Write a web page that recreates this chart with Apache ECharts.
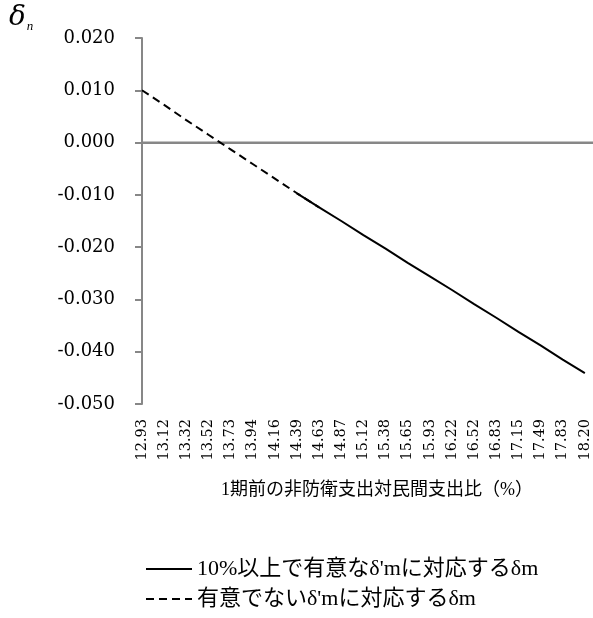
<!DOCTYPE html>
<html><head><meta charset="utf-8">
<script src="https://cdn.jsdelivr.net/npm/echarts@6/dist/echarts.min.js"></script>
<style>html,body{margin:0;padding:0;background:#fff}#c{width:593px;height:618px}</style>
</head><body><div id="c"></div>
<script>
const categories = ['12.93','13.12','13.32','13.52','13.73','13.94','14.16','14.39','14.63','14.87','15.12','15.38','15.65','15.93','16.22','16.52','16.83','17.15','17.49','17.83','18.20'];
const deltaValues = [0.0100,0.0072,0.0043,0.0015,-0.0013,-0.0041,-0.0069,-0.0097,-0.0124,-0.0150,-0.0177,-0.0203,-0.0230,-0.0256,-0.0282,-0.0309,-0.0335,-0.0362,-0.0388,-0.0415,-0.0441];
const dashedEnd = 8;    // last category index of non-significant part
const solidStart = 7;   // first category index of significant part
const seriesNames = ["10%以上で有意なδ'mに対応するδm", "有意でないδ'mに対応するδm"];
const yTicks = {min: -0.05, max: 0.02, interval: 0.01};
const zeroLevel = 0;
const xAxisTitle = '1期前の非防衛支出対民間支出比（%）';

const solidData = deltaValues.map((v, i) => i >= solidStart ? v : null);
const dashedData = deltaValues.map((v, i) => i <= dashedEnd ? v : null);
const serif = '"Liberation Serif","Noto Sans CJK JP",serif';
const numSerif = '"DejaVu Serif","Liberation Serif",serif';
const blankLabel = v => (v === undefined || v === null) ? '' : v;

const chart = echarts.init(document.getElementById('c'), null, {renderer: 'canvas'});
chart.setOption({
  animation: false,
  backgroundColor: '#fff',
  grid: [
    // data grid: continues past the right edge of the picture (cropped like the reference)
    {left: 142, right: -14, top: 38, bottom: 214, containLabel: false, outerBoundsMode: 'none'},
    // same vertical scale, used only for the horizontal zero axis line
    {left: 142, right: 0, top: 38, bottom: 214, containLabel: false, outerBoundsMode: 'none'}
  ],
  xAxis: [
    {
      gridIndex: 0, type: 'category', data: categories, boundaryGap: false, max: categories.length,
      axisLine: {show: false, onZero: false}, axisTick: {show: false}, splitLine: {show: false},
      axisLabel: {rotate: 90, interval: 0, margin: 15, fontFamily: numSerif, fontSize: 14.5, color: '#000',
        formatter: blankLabel}
    },
    {
      gridIndex: 1, type: 'value', min: 0, max: 1,
      axisLine: {show: true, onZero: true, lineStyle: {color: '#878787', width: 2}},
      axisTick: {show: false}, axisLabel: {show: false}, splitLine: {show: false}
    }
  ],
  yAxis: [
    {
      gridIndex: 0, type: 'value', min: yTicks.min, max: yTicks.max, interval: yTicks.interval,
      axisLine: {show: true, lineStyle: {color: '#878787', width: 2}},
      axisTick: {show: true, length: 7, lineStyle: {color: '#878787', width: 2}},
      splitLine: {show: false},
      axisLabel: {margin: 27, fontFamily: numSerif, fontSize: 18, color: '#000', formatter: v => v.toFixed(3)}
    },
    {
      gridIndex: 1, type: 'value', min: yTicks.min, max: yTicks.max, interval: yTicks.interval,
      axisLine: {show: false}, axisTick: {show: false}, axisLabel: {show: false}, splitLine: {show: false}
    }
  ],
  legend: {
    orient: 'vertical', left: 140, top: 553, itemWidth: 46, itemHeight: 14, itemGap: 8,
    itemStyle: {opacity: 0, borderWidth: 0},
    textStyle: {fontFamily: serif, fontSize: 22, color: '#000'},
    data: seriesNames
  },
  series: [
    {
      name: seriesNames[0], type: 'line', xAxisIndex: 0, yAxisIndex: 0, data: solidData, symbol: 'none',
      connectNulls: false, lineStyle: {color: '#000', width: 2, type: 'solid'}, itemStyle: {color: '#000'}, z: 3
    },
    {
      name: seriesNames[1], type: 'line', xAxisIndex: 0, yAxisIndex: 0, data: dashedData, symbol: 'none',
      connectNulls: false, lineStyle: {color: '#000', width: 2, type: [8, 5]}, itemStyle: {color: '#000'}, z: 2
    },
    {
      name: 'zero', type: 'line', xAxisIndex: 1, yAxisIndex: 1, silent: true, symbol: 'none', clip: false,
      data: [[0, zeroLevel], [1, zeroLevel]], lineStyle: {color: '#878787', width: 2}, z: 1
    }
  ],
  graphic: [
    {type: 'text', left: 9, top: 4, style: {
      text: '{d|δ}{n|n}', rich: {
        d: {fontFamily: numSerif, fontStyle: 'italic', fontSize: 28, fill: '#000'},
        n: {fontFamily: serif, fontStyle: 'italic', fontSize: 13, fill: '#000', padding: [17, 0, 0, 1]}
      }}},
    {type: 'text', x: 377, y: 490, style: {text: xAxisTitle, fontFamily: serif, fontSize: 18,
      fill: '#000', align: 'center', verticalAlign: 'middle'}}
  ]
});
</script></body></html>
